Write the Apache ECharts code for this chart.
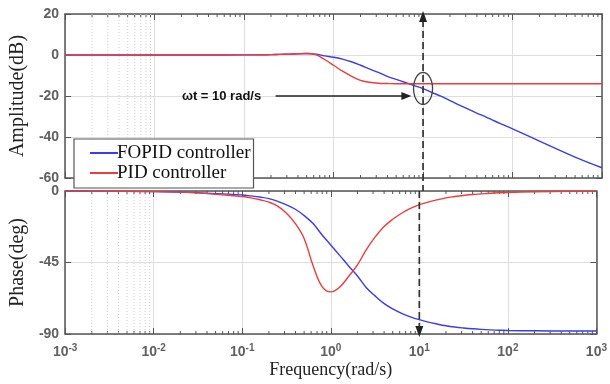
<!DOCTYPE html>
<html><head><meta charset="utf-8">
<script src="https://cdn.jsdelivr.net/npm/echarts@6/dist/echarts.min.js"></script>
<style>html,body{margin:0;padding:0;background:#fff}#c{width:610px;height:384px}</style>
</head><body><div id="c"></div>
<script>
// ---- data ----
const freq = [0.001, 0.01, 0.03, 0.1, 0.126, 0.158, 0.2, 0.251, 0.316, 0.398, 0.501, 0.631, 0.794, 1, 1.26, 1.58, 2, 2.51, 3.16, 3.98, 5.01, 6.31, 7.94, 10, 12.6, 15.8, 20, 25.1, 31.6, 39.8, 50.1, 63.1, 79.4, 100, 200, 500, 1000];
const fopidAmp = [0, 0, 0, 0.05, 0.08, 0.12, 0.2, 0.3, 0.43, 0.6, 0.7, 0.4, -0.4, -1.1, -2.0, -3.3, -5, -6.8, -8.5, -10.4, -11.9, -13.4, -14.9, -16.4, -18.3, -20.1, -22.3, -24.3, -26.3, -28.3, -30.2, -32.2, -34.1, -36, -42, -49.8, -55];
const pidAmp = [0, 0, 0, 0.05, 0.08, 0.12, 0.2, 0.3, 0.43, 0.6, 0.75, 0.2, -2.2, -5, -7.9, -10.3, -12.4, -13.3, -13.75, -13.9, -14, -14, -14, -14, -14, -14, -14, -14, -14, -14, -14, -14, -14, -14, -14, -14, -14];
const fopidPhase = [0, -0.4, -1, -2.5, -3.1, -3.8, -4.8, -6.5, -8.7, -11.5, -15.5, -20.5, -27.5, -34, -40.5, -47, -53.5, -60.7, -66, -70.7, -74.2, -77, -79.2, -81, -82.5, -83.7, -84.8, -85.6, -86.2, -86.7, -87.1, -87.4, -87.6, -87.8, -88, -88.1, -88.1];
const pidPhase = [0, -0.4, -1.2, -3.5, -4.3, -5.5, -7, -9.5, -14, -20.5, -30, -47, -60, -63.5, -60.5, -54, -46.5, -37, -29, -22.5, -17.8, -14, -11, -8.6, -7, -5.6, -4.3, -3.5, -2.8, -2.2, -1.8, -1.4, -1.1, -0.9, -0.5, -0.2, -0.1];
const seriesNames = ['FOPID controller', 'PID controller'];
const ampRange = [-60, 20], ampStep = 20;
const phaseRange = [-90, 0], phaseStep = 45;
const freqRange = [0.001, 1000];
const markFreq = 10, markAmp = -16.3;
const noteText = 'ωt = 10 rad/s';
const noteFreq = 0.056, noteAmp = -20, arrowFrom = 0.225, arrowTo = 7.4;

// minor log tick positions
const minorFreq = [];
for (let k = -3; k < 3; k++) for (let m = 2; m < 10; m++) minorFreq.push(+(m * Math.pow(10, k)).toPrecision(3));

const BLUE = '#3b3bef', RED = '#ef3b3b', FRAME = '#555', GRID = '#dedede', LBL = '#606060';
const chart = echarts.init(document.getElementById('c'), null, {renderer: 'canvas'});

const pairs = (ys) => freq.map((f, i) => [f, ys[i]]);

function xAx(grid, pos, labels, name) {
  return {
    type: 'log', logBase: 10, gridIndex: grid, position: pos, min: freqRange[0], max: freqRange[1], splitNumber: 6,
    axisLine: {show: true, onZero: false, lineStyle: {color: FRAME, width: 1.5}},
    axisTick: {show: true, inside: true, length: 6, lineStyle: {color: FRAME}},
    splitLine: {show: pos === 'bottom', lineStyle: {color: GRID, width: 1}},
    axisLabel: {
      show: labels, margin: 9,
      formatter: v => '{b|10}{s|' + Math.round(Math.log10(v)) + '}',
      rich: {
        b: {fontFamily: 'Liberation Sans', fontSize: 14, fontWeight: 'bold', color: LBL},
        s: {fontFamily: 'Liberation Sans', fontSize: 10, fontWeight: 'bold', color: LBL, padding: [0, 0, 9, 0]}
      }
    },
    name: name || '', nameLocation: 'middle', nameGap: 27,
    nameTextStyle: {fontFamily: 'Liberation Serif', fontSize: 18, color: '#222'}
  };
}
function yAx(grid, pos, range, step, labels, name) {
  return {
    type: 'value', gridIndex: grid, position: pos, min: range[0], max: range[1], interval: step,
    axisLine: {show: true, lineStyle: {color: FRAME, width: 1.5}},
    axisTick: {show: true, inside: true, length: 6, lineStyle: {color: FRAME}},
    splitLine: {show: pos === 'left', lineStyle: {color: GRID, width: 1}},
    axisLabel: {show: labels, margin: 6, fontFamily: 'Liberation Sans', fontSize: 14, fontWeight: 'bold', color: LBL},
    name: name || '', nameLocation: 'middle', nameGap: 29,
    nameTextStyle: {fontFamily: 'Liberation Serif', fontSize: 20, color: '#222'}
  };
}
function minorSeries(xi, yi, range) {
  return {
    type: 'custom', xAxisIndex: xi, yAxisIndex: yi, silent: true, z: 1,
    data: minorFreq.map(f => [f, range[1]]),
    renderItem: function (params, api) {
      const f = api.value(0);
      const t = api.coord([f, range[1]]), b = api.coord([f, range[0]]);
      const ch = [
        {type: 'line', shape: {x1: t[0], y1: t[1], x2: t[0], y2: t[1] + 3}, style: {stroke: FRAME, lineWidth: 1}},
        {type: 'line', shape: {x1: b[0], y1: b[1], x2: b[0], y2: b[1] - 3}, style: {stroke: FRAME, lineWidth: 1}}
      ];
      if (f < 0.01) ch.push({type: 'line', shape: {x1: t[0], y1: t[1], x2: b[0], y2: b[1]}, style: {stroke: '#cfcfcf', lineWidth: 1, lineDash: [1, 2]}});
      return {type: 'group', children: ch};
    }
  };
}
function lineSeries(name, xi, yi, ys, color) {
  return {
    name: name, type: 'line', xAxisIndex: xi, yAxisIndex: yi, data: pairs(ys), showSymbol: false, symbol: 'none',
    smooth: 0.4, lineStyle: {color: color, width: 1.4}, itemStyle: {color: color}, z: 3
  };
}

const option = {
  backgroundColor: '#fff',
  animation: false,
  grid: [
    {left: 64, top: 14, width: 538, height: 164, show: false},
    {left: 64, top: 191, width: 538, height: 143, show: false}
  ],
  xAxis: [xAx(0, 'bottom', false), xAx(0, 'top', false), xAx(1, 'bottom', true, 'Frequency(rad/s)'), xAx(1, 'top', false)],
  yAxis: [yAx(0, 'left', ampRange, ampStep, true, 'Amplitude(dB)'), yAx(0, 'right', ampRange, ampStep, false),
          yAx(1, 'left', phaseRange, phaseStep, true, 'Phase(deg)'), yAx(1, 'right', phaseRange, phaseStep, false)],
  legend: {
    data: seriesNames, orient: 'vertical', left: 74, top: 139,
    padding: [4, 3, 5, 16], itemGap: 0, itemWidth: 28, itemHeight: 2, icon: 'rect',
    backgroundColor: '#fff', borderColor: FRAME, borderWidth: 1.2, borderRadius: 0,
    textStyle: {fontFamily: 'Liberation Serif', fontSize: 19, color: '#111', lineHeight: 20, padding: [0, 0, 0, -6]},
    z: 20
  },
  series: [
    minorSeries(0, 0, ampRange),
    minorSeries(2, 2, phaseRange),
    lineSeries(seriesNames[0], 0, 0, fopidAmp, BLUE),
    lineSeries(seriesNames[1], 0, 0, pidAmp, RED),
    lineSeries(seriesNames[0], 2, 2, fopidPhase, BLUE),
    lineSeries(seriesNames[1], 2, 2, pidPhase, RED),
    {
      type: 'custom', xAxisIndex: 0, yAxisIndex: 0, silent: true, z: 10,
      data: [[markFreq, markAmp]],
      renderItem: function (params, api) {
        const top = api.coord([markFreq, ampRange[1]]);
        const bot = api.coord([markFreq, ampRange[0]]);
        const c = api.coord([api.value(0), api.value(1)]);
        const t = api.coord([noteFreq, noteAmp]);
        const a0 = api.coord([arrowFrom, noteAmp]), a1 = api.coord([arrowTo, noteAmp]);
        const ell = [];
        for (let i = 0; i < 48; i++) { const th = i / 48 * Math.PI * 2; ell.push([c[0] + 9.5 * Math.cos(th), c[1] + 16 * Math.sin(th)]); }
        return {type: 'group', children: [
          {type: 'line', shape: {x1: top[0], y1: top[1] + 6, x2: bot[0], y2: bot[1] + 13}, style: {stroke: '#333', lineWidth: 1.7, lineDash: [7, 4]}},
          {type: 'polygon', shape: {points: [[top[0], top[1] - 3], [top[0] - 4, top[1] + 8], [top[0] + 4, top[1] + 8]]}, style: {fill: '#222'}},
          {type: 'polygon', shape: {points: ell}, style: {fill: null, stroke: '#444', lineWidth: 1.3}},
          {type: 'line', shape: {x1: a0[0], y1: a0[1], x2: a1[0] - 6, y2: a1[1]}, style: {stroke: '#222', lineWidth: 1.3}},
          {type: 'polygon', shape: {points: [[a1[0], a1[1]], [a1[0] - 10, a1[1] - 4], [a1[0] - 10, a1[1] + 4]]}, style: {fill: '#222'}},
          {type: 'text', x: t[0], y: t[1], style: {text: noteText, fontFamily: 'Liberation Sans', fontWeight: 'bold', fontSize: 13, fill: '#111', align: 'center', verticalAlign: 'middle'}}
        ]};
      }
    },
    {
      type: 'custom', xAxisIndex: 2, yAxisIndex: 2, silent: true, z: 10,
      data: [[markFreq, phaseRange[0]]],
      renderItem: function (params, api) {
        const top = api.coord([markFreq, phaseRange[1]]);
        const bot = api.coord([markFreq, phaseRange[0]]);
        return {type: 'group', children: [
          {type: 'line', shape: {x1: top[0], y1: top[1], x2: bot[0], y2: bot[1] - 6}, style: {stroke: '#333', lineWidth: 1.7, lineDash: [7, 4]}},
          {type: 'polygon', shape: {points: [[bot[0], bot[1] + 3], [bot[0] - 4, bot[1] - 8], [bot[0] + 4, bot[1] - 8]]}, style: {fill: '#222'}}
        ]};
      }
    }
  ]
};
chart.setOption(option);
</script></body></html>
